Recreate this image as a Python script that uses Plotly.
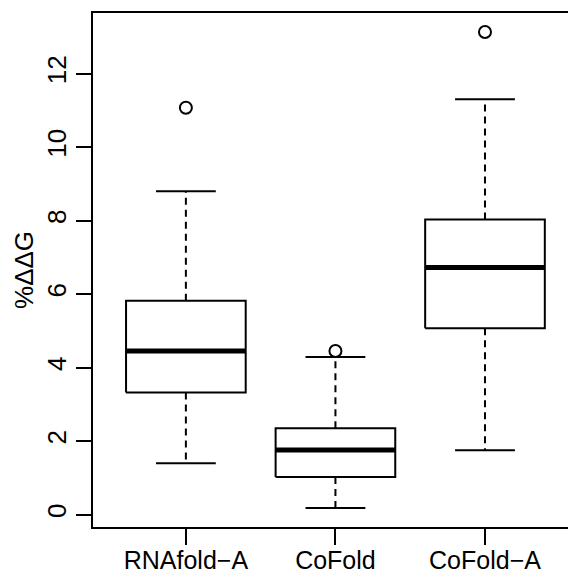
import plotly.graph_objects as go

categories = ["RNAfold\u2212A", "CoFold", "CoFold\u2212A"]
q1 = [3.32, 1.02, 5.07]
median = [4.45, 1.76, 6.72]
q3 = [5.82, 2.35, 8.03]
whisker_low = [1.40, 0.18, 1.75]
whisker_high = [8.80, 4.29, 11.30]
outliers = [[11.07], [4.45], [13.13]]
y_ticks = [0, 2, 4, 6, 8, 10, 12]

FONT = "Liberation Sans, Arial, Helvetica, sans-serif"
FS = 26
BOX_HALF = 0.4
CAP_HALF = 0.2

fig = go.Figure()
for i, name in enumerate(categories):
    x = i + 1
    # whiskers (dashed)
    fig.add_trace(go.Scatter(x=[x, x], y=[q3[i], whisker_high[i]], mode="lines",
                             line=dict(color="black", width=2, dash="7px,5px"), showlegend=False, hoverinfo="skip"))
    fig.add_trace(go.Scatter(x=[x, x], y=[q1[i], whisker_low[i]], mode="lines",
                             line=dict(color="black", width=2, dash="7px,5px"), showlegend=False, hoverinfo="skip"))
    # caps
    for v in (whisker_high[i], whisker_low[i]):
        fig.add_trace(go.Scatter(x=[x - CAP_HALF, x + CAP_HALF], y=[v, v], mode="lines",
                                 line=dict(color="black", width=2), showlegend=False, hoverinfo="skip"))
    # box
    fig.add_trace(go.Scatter(x=[x - BOX_HALF, x + BOX_HALF, x + BOX_HALF, x - BOX_HALF, x - BOX_HALF],
                             y=[q1[i], q1[i], q3[i], q3[i], q1[i]], mode="lines",
                             fill="toself", fillcolor="white",
                             line=dict(color="black", width=2), showlegend=False, hoverinfo="skip"))
    # median
    fig.add_trace(go.Scatter(x=[x - BOX_HALF, x + BOX_HALF], y=[median[i], median[i]], mode="lines",
                             line=dict(color="black", width=5), showlegend=False, hoverinfo="skip"))
    # outliers
    fig.add_trace(go.Scatter(x=[x] * len(outliers[i]), y=outliers[i], mode="markers",
                             marker=dict(symbol="circle-open", size=12, color="black", line=dict(width=2)),
                             showlegend=False, hoverinfo="skip"))

fig.update_layout(
    width=568, height=576,
    margin=dict(l=93, r=0, t=13, b=49),
    paper_bgcolor="white", plot_bgcolor="white",
    font=dict(family=FONT, size=FS, color="black"),
    xaxis=dict(range=[0.379, 3.555], tickvals=[1, 2, 3], ticktext=categories, automargin=False,
               showgrid=False, zeroline=False, showline=True, linecolor="black", linewidth=2,
               mirror=True, ticks="outside", ticklen=16, tickwidth=2, tickcolor="black",
               ticklabelstandoff=-6, tickfont=dict(family=FONT, size=25)),
    yaxis=dict(range=[-0.338, 13.648], tickvals=y_ticks, ticktext=[str(v) for v in y_ticks], automargin=False,
               showgrid=False, zeroline=False, showline=True, linecolor="black", linewidth=2,
               ticks="outside", ticklen=15, tickwidth=2, tickcolor="black", tickangle=-90,
               tickfont=dict(family=FONT, size=FS)),
    annotations=[dict(text="%\u0394\u0394G", xref="paper", yref="paper", x=-0.1453, y=0.5,
                      xanchor="center", yanchor="middle", textangle=-90, showarrow=False,
                      font=dict(family=FONT, size=FS))],
)

fig.write_html("out.html")
